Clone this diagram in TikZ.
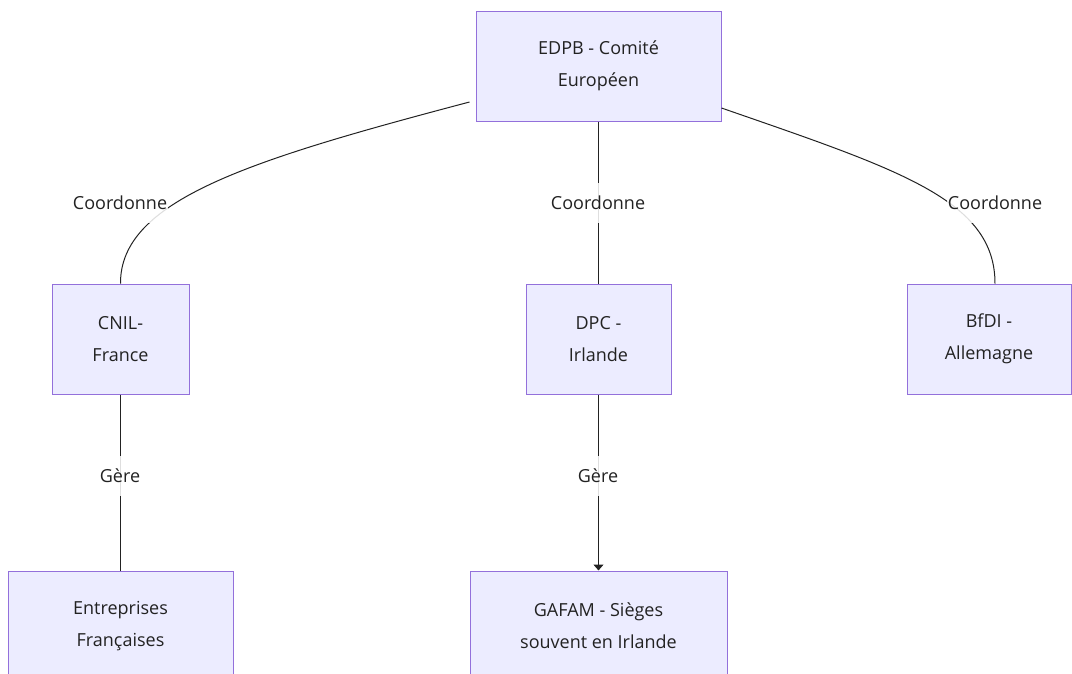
\documentclass[tikz,border=0pt]{standalone}
\usepackage{fontspec}
\setmainfont{Open Sans}
\usetikzlibrary{arrows.meta}
\definecolor{boxfill}{HTML}{ECECFF}
\definecolor{boxline}{HTML}{9370DB}
\definecolor{ink}{HTML}{222222}

\begin{document}
\begin{tikzpicture}[x=1pt,y=-1pt,
    box/.style={draw=boxline, fill=boxfill, line width=1pt, minimum height=110pt,
      inner sep=0pt, align=center, text=ink, font=\fontsize{18}{32}\selectfont},
    lbl/.style={fill=white, fill opacity=0.85, text opacity=1, text=ink,
      inner xsep=1pt, inner ysep=0pt, minimum height=40pt, font=\fontsize{18}{20}\selectfont},
    link/.style={draw=ink, line width=1pt}]
      \useasboundingbox (0,0) rectangle (1072,673);

      % 1. les autorites
      \node[box, minimum width=245pt] (edpb) at (598.5,66) {EDPB - Comité\\Européen};
      \node[box, minimum width=137pt] (cnil) at (120.5,339) {CNIL-\\France};
      \node[box, minimum width=145pt] (dpc) at (598.5,339) {DPC -\\Irlande};
      \node[box, minimum width=164pt] (bfdi) at (989,339) {BfDI -\\Allemagne};

      % 2. les entreprises
      \node[box, minimum width=225pt] (ent) at (120.5,626) {Entreprises\\Françaises};
      \node[box, minimum width=257pt] (gafam) at (598.5,626) {GAFAM - Sièges\\souvent en Irlande};

      % 3. liens
      \draw[link] ([xshift=-6pt,yshift=-36pt]edpb.west) .. controls (250,160) and (120,200) .. (cnil.north);
      \draw[link] (edpb.south) -- (dpc.north);
      \draw[link] ([yshift=-42pt]edpb.east) .. controls (900,170) and (995,200) .. ([xshift=6pt]bfdi.north);
      \draw[link] (cnil.south) -- (ent.north);
      \draw[link, -{Triangle[length=6pt,width=10pt]}] (dpc.south) -- (gafam.north);

      % 4. etiquettes
      \node[lbl] (lcnil) at (120,203) {Coordonne};
      \node[lbl] (ldpc) at (598,203) {Coordonne};
      \node[lbl] (lbfdi) at (995,203) {Coordonne};
      \node[lbl] (lent) at (120,476) {Gère};
      \node[lbl] (lgafam) at (598,476) {Gère};
\end{tikzpicture}
\end{document}
